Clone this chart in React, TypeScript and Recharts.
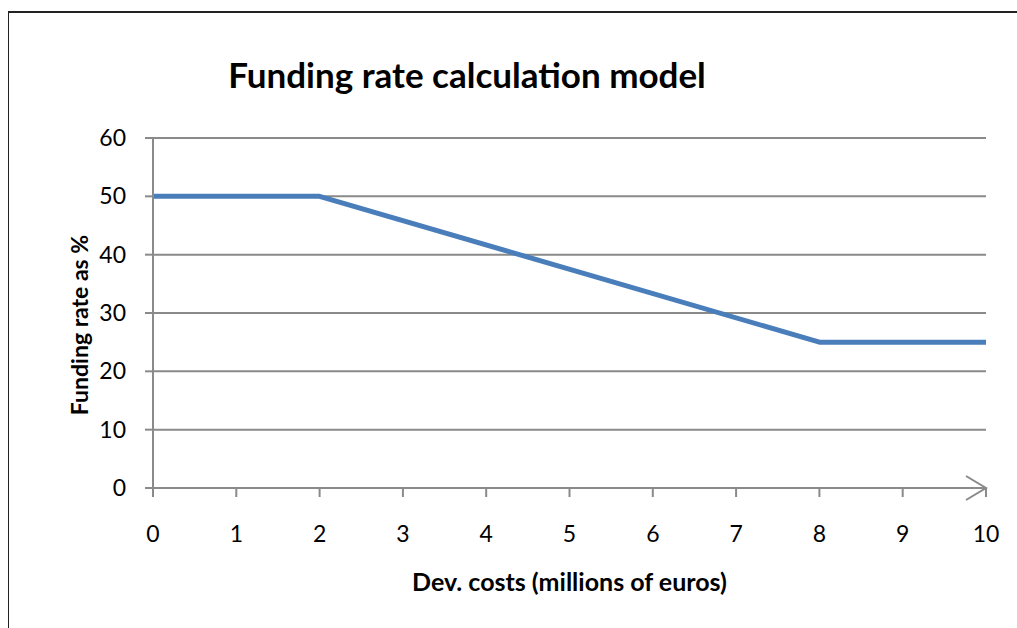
import React from "react";
import {
  LineChart,
  Line,
  XAxis,
  YAxis,
  CartesianGrid,
  ReferenceDot,
} from "recharts";

// Funding rate model: breakpoints of the piecewise line
const devCosts = [0, 2, 8, 10];
const fundingRates = [50, 50, 25, 25];
const xTicks = [0, 1, 2, 3, 4, 5, 6, 7, 8, 9, 10];
const yTicks = [0, 10, 20, 30, 40, 50, 60];

const data = devCosts.map((cost, i) => ({ cost, rate: fundingRates[i] }));

const FONT = "Lato, 'Open Sans', sans-serif";
const GRID = "#8a8a8a";

export default function App() {
  return (
    <div
      style={{
        position: "absolute",
        left: 0,
        top: 0,
        width: 1017,
        height: 628,
        overflow: "hidden",
        background: "#fff",
        fontFamily: FONT,
      }}
    >
      {/* chart frame, cut off on the right and bottom */}
      <div
        style={{
          position: "absolute",
          left: 8,
          top: 11,
          width: 1100,
          height: 700,
          borderTop: "2px solid #222",
          borderLeft: "1.5px solid #222",
        }}
      />
      <div
        style={{
          position: "absolute",
          left: 0,
          top: 57,
          width: 934,
          textAlign: "center",
          fontSize: 35,
          lineHeight: "35px",
          fontWeight: 700,
          color: "#000",
        }}
      >
        Funding rate calculation model
      </div>
      <div style={{ position: "absolute", left: 0, top: 0 }}>
        <LineChart
          width={1017}
          height={628}
          data={data}
          margin={{ top: 138, right: 31, bottom: 80, left: 73 }}
        >
          <CartesianGrid vertical={false} stroke={GRID} strokeWidth={2} />
          <XAxis
            dataKey="cost"
            type="number"
            domain={[0, 10]}
            ticks={xTicks}
            height={60}
            stroke={GRID}
            strokeWidth={2}
            tickSize={9}
            tickMargin={29}
            tick={{ fill: "#000", fontSize: 23, fontFamily: FONT }}
            label={{
              content: ({ viewBox }: any) => (
                <text
                  x={viewBox.x + viewBox.width / 2}
                  y={viewBox.y + 103}
                  textAnchor="middle"
                  fontFamily={FONT}
                  fontWeight={700}
                  fontSize={25}
                  fill="#000"
                >
                  Dev. costs (millions of euros)
                </text>
              ),
            }}
          />
          <YAxis
            type="number"
            domain={[0, 60]}
            ticks={yTicks}
            width={80}
            stroke={GRID}
            strokeWidth={2}
            tickSize={8}
            tickMargin={19}
            tick={{ fill: "#000", fontSize: 23, fontFamily: FONT }}
            label={{
              content: ({ viewBox }: any) => {
                const cx = viewBox.x + 6;
                const cy = viewBox.y + viewBox.height / 2 + 12;
                return (
                  <text
                    x={cx}
                    y={cy}
                    transform={`rotate(-90 ${cx} ${cy})`}
                    textAnchor="middle"
                    dominantBaseline="central"
                    fontFamily={FONT}
                    fontWeight={700}
                    fontSize={23}
                    fill="#000"
                  >
                    Funding rate as %
                  </text>
                );
              },
            }}
          />
          <ReferenceDot
            x={10}
            y={0}
            r={0}
            ifOverflow="visible"
            shape={(p: any) => (
              <path
                d={`M${p.cx - 20},${p.cy - 12} L${p.cx},${p.cy} L${p.cx - 20},${p.cy + 12}`}
                fill="none"
                stroke={GRID}
                strokeWidth={2}
              />
            )}
          />
          <Line
            dataKey="rate"
            stroke="#4a7ebb"
            strokeWidth={5}
            dot={false}
            strokeLinejoin="round"
            isAnimationActive={false}
          />
        </LineChart>
      </div>
    </div>
  );
}
